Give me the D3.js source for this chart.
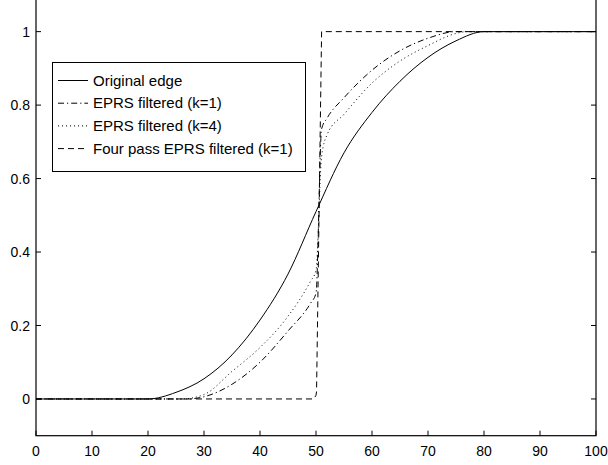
<!DOCTYPE html>
<html><head><meta charset="utf-8">
<script src="https://cdn.jsdelivr.net/npm/d3@7"></script>
<style>body{margin:0;background:#fff}svg{display:block}text{font-family:"Liberation Sans",Arial,Helvetica,sans-serif;}</style>
</head><body>
<script>
const origX = [0,20,25,30,35,40,45,50,55,60,65,70,75,80,100];
const origY = [0,0,0.018,0.055,0.12,0.215,0.34,0.51,0.67,0.78,0.865,0.93,0.975,1,1];
const k1X = [0,27,30,35,40,45,49,50,51,52,55,60,65,70,75,100];
const k1Y = [0,0,0.006,0.04,0.1,0.185,0.26,0.288,0.735,0.765,0.82,0.895,0.948,0.982,1,1];
const k4X = [0,26,30,35,40,45,49,50,51,52,55,60,65,70,75,77,100];
const k4Y = [0,0,0.012,0.075,0.14,0.225,0.32,0.35,0.66,0.72,0.775,0.86,0.92,0.962,0.995,1,1];
const fourX = [0,49.6,50,50.1,51,100];
const fourY = [0,0,0.01,0.02,1,1];
const xTicks = [0,10,20,30,40,50,60,70,80,90,100];
const yTicks = [0,0.2,0.4,0.6,0.8,1];
const legendLabels = ["Original edge","EPRS filtered (k=1)","EPRS filtered (k=4)","Four pass EPRS filtered (k=1)"];

const W=608,H=465;
const svg=d3.select("body").append("svg").attr("width",W).attr("height",H);
const x=d3.scaleLinear().domain([0,100]).range([36,596]);
const y=d3.scaleLinear().domain([-0.1,1.1]).range([435.7,-5.1]);

const series=[
  {xs:origX,ys:origY,dash:null,curve:d3.curveMonotoneX},
  {xs:k1X,ys:k1Y,dash:"6,3,1.2,3",curve:d3.curveMonotoneX},
  {xs:k4X,ys:k4Y,dash:"1,3",curve:d3.curveMonotoneX},
  {xs:fourX,ys:fourY,dash:"6,4",curve:d3.curveLinear}
];
series.forEach(s=>{
  const line=d3.line().x(d=>x(d[0])).y(d=>y(d[1])).curve(s.curve);
  svg.append("path").datum(s.xs.map((v,i)=>[v,s.ys[i]]))
    .attr("d",line).attr("fill","none").attr("stroke","#000").attr("stroke-width",1)
    .attr("stroke-dasharray",s.dash);
});

// axes box
const x0=x(0),x1=x(100),y0=y(-0.1),y1=y(1.1);
svg.append("rect").attr("x",x0).attr("y",y1).attr("width",x1-x0).attr("height",y0-y1)
  .attr("fill","none").attr("stroke","#000").attr("stroke-width",1.2);
const tl=5;
xTicks.forEach(t=>{
  svg.append("line").attr("x1",x(t)).attr("x2",x(t)).attr("y1",y0).attr("y2",y0-tl).attr("stroke","#000");
  svg.append("line").attr("x1",x(t)).attr("x2",x(t)).attr("y1",y1).attr("y2",y1+tl).attr("stroke","#000");
  svg.append("text").attr("x",x(t)).attr("y",456).attr("text-anchor","middle").attr("font-size",14).text(t);
});
yTicks.forEach(t=>{
  svg.append("line").attr("x1",x0).attr("x2",x0+tl).attr("y1",y(t)).attr("y2",y(t)).attr("stroke","#000");
  svg.append("line").attr("x1",x1).attr("x2",x1-tl).attr("y1",y(t)).attr("y2",y(t)).attr("stroke","#000");
  svg.append("text").attr("x",30).attr("y",y(t)+5).attr("text-anchor","end").attr("font-size",14).text(d3.format("~g")(t));
});

// legend
const lg=svg.append("g");
lg.append("rect").attr("x",52.5).attr("y",62.5).attr("width",253).attr("height",109)
  .attr("fill","#fff").attr("stroke","#000").attr("stroke-width",1);
legendLabels.forEach((lab,i)=>{
  const ly=80.5+i*22.7;
  lg.append("line").attr("x1",58).attr("x2",88).attr("y1",ly).attr("y2",ly)
    .attr("stroke","#000").attr("stroke-dasharray",series[i].dash);
  lg.append("text").attr("x",93).attr("y",ly+5).attr("font-size",15).text(lab);
});
</script>
</body></html>
